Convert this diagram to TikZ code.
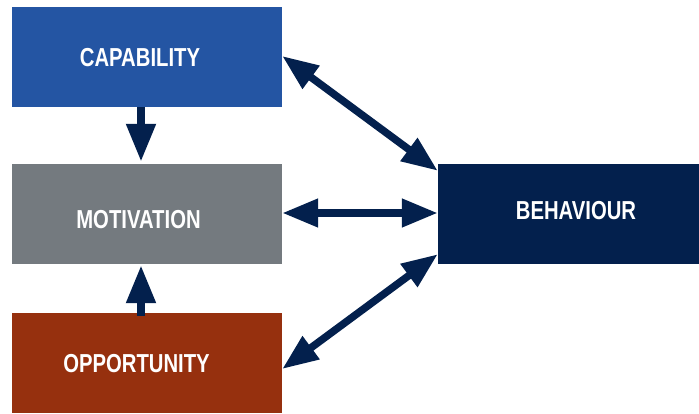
\documentclass[tikz,border=0pt]{standalone}
\usepackage{fontspec}
\newfontfamily\condfont{Liberation Sans}[FakeStretch=0.78]
\usetikzlibrary{arrows.meta}
\definecolor{capblue}{HTML}{2455A3}
\definecolor{motgray}{HTML}{747A7F}
\definecolor{opprust}{HTML}{96300E}
\definecolor{behnavy}{HTML}{03204D}
\tikzset{
  box/.style={draw=none, inner sep=0pt, minimum width=270pt, minimum height=100pt},
  lbl/.style={text=white, font=\condfont\bfseries\fontsize{26pt}{26pt}\selectfont, inner sep=0pt, anchor=center},
  arr/.style={draw=behnavy, line width=8pt, -{Triangle[length=38pt,width=28pt]}},
  darr/.style={draw=behnavy, line width=7.5pt, {Triangle[length=36pt,width=27pt]}-{Triangle[length=36pt,width=27pt]}}
}
\begin{document}
\begin{tikzpicture}[x=1pt,y=-1pt]
\useasboundingbox (0,0) rectangle (699,414);
\node[box, fill=capblue] (cap) at (147,57) {};
\node[box, fill=motgray] (mot) at (147,214) {};
\node[box, fill=opprust] (opp) at (147,363) {};
\node[box, fill=behnavy, minimum width=261pt] (beh) at (568.5,214) {};
\node[lbl] (capt) at (140,57.5) {CAPABILITY};
\node[lbl] (mott) at (138.5,219.5) {MOTIVATION};
\node[lbl] (oppt) at (136.5,364) {OPPORTUNITY};
\node[lbl] (beht) at (576,211) {BEHAVIOUR};
% vertical arrows
\draw[arr] ([xshift=-6pt]cap.south) -- ([xshift=-6pt,yshift=2pt]mot.north);
\draw[arr] ([xshift=-6pt,yshift=-3pt]opp.north) -- ([xshift=-6pt,yshift=-1pt]mot.south);
% double arrows
\draw[darr] ([yshift=1pt]cap.east) -- ([yshift=-7pt]beh.north west);
\draw[darr] ([yshift=1pt]mot.east) -- ([yshift=1pt]beh.west);
\draw[darr] ([yshift=-6pt]opp.east) -- ([yshift=10pt]beh.south west);
\end{tikzpicture}
\end{document}
